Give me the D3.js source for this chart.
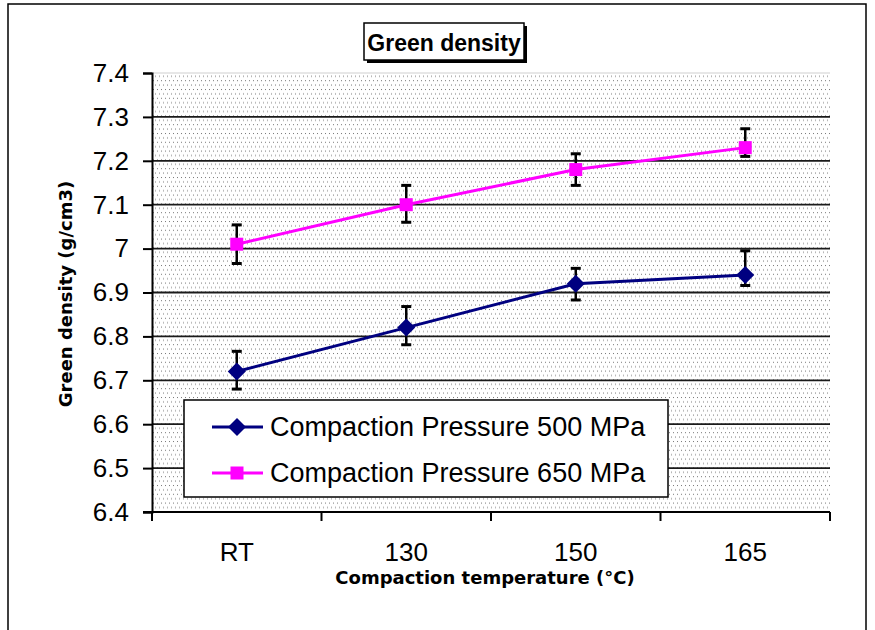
<!DOCTYPE html>
<html>
<head>
<meta charset="utf-8">
<script src="https://cdn.jsdelivr.net/npm/d3@7/dist/d3.min.js"></script>
<style>
  html, body { margin: 0; padding: 0; background: #fff; }
  svg { display: block; }
</style>
</head>
<body>
<script>
// Compaction temperatures (categories)
const categories = ["RT", "130", "150", "165"];

// Green density (g/cm3) for each compaction pressure
const series500 = [6.72, 6.82, 6.92, 6.94];
const low500    = [6.68, 6.781, 6.883, 6.916];
const high500   = [6.766, 6.868, 6.955, 6.995];

const series650 = [7.01, 7.10, 7.18, 7.23];
const low650    = [6.966, 7.06, 7.144, 7.21];
const high650   = [7.054, 7.144, 7.216, 7.273];

const yTicks = [6.4, 6.5, 6.6, 6.7, 6.8, 6.9, 7, 7.1, 7.2, 7.3, 7.4];
const seriesNames = ["Compaction Pressure 500 MPa", "Compaction Pressure 650 MPa"];

const W = 875, H = 630;
const plot = { left: 152, right: 830, top: 73, bottom: 512 };

const svg = d3.select("body").append("svg")
  .attr("width", W).attr("height", H);

// Dotted fill for the plot area
const defs = svg.append("defs");
const pat = defs.append("pattern")
  .attr("id", "dots").attr("patternUnits", "userSpaceOnUse")
  .attr("width", 4).attr("height", 8.8);
pat.append("rect").attr("x", 1).attr("y", 1).attr("width", 1).attr("height", 1).attr("fill", "#777");
pat.append("rect").attr("x", 3).attr("y", 5.4).attr("width", 1).attr("height", 1).attr("fill", "#777");

// Square rotated 45 degrees, used as the diamond marker
const diamond = {
  draw(ctx, size) {
    const r = Math.sqrt(size / 2);
    ctx.moveTo(0, -r); ctx.lineTo(r, 0); ctx.lineTo(0, r); ctx.lineTo(-r, 0); ctx.closePath();
  }
};

// Outer chart frame
svg.append("rect")
  .attr("x", 8).attr("y", 4).attr("width", 858).attr("height", 660)
  .attr("fill", "#fff").attr("stroke", "#000").attr("stroke-width", 1.5);

const x = d3.scaleBand().domain(categories).range([plot.left, plot.right]).padding(0);
const y = d3.scaleLinear().domain([6.4, 7.4]).range([plot.bottom, plot.top]);

// Plot background
svg.append("rect")
  .attr("x", plot.left).attr("y", plot.top)
  .attr("width", plot.right - plot.left).attr("height", plot.bottom - plot.top)
  .attr("fill", "url(#dots)");
svg.append("line")
  .attr("x1", plot.left).attr("x2", plot.right)
  .attr("y1", plot.top).attr("y2", plot.top)
  .attr("stroke", "#cfcfcf").attr("stroke-width", 1);

// Horizontal gridlines
svg.append("g").selectAll("line")
  .data(yTicks.filter(v => v > 6.4 && v < 7.4))
  .join("line")
  .attr("x1", plot.left).attr("x2", plot.right)
  .attr("y1", d => y(d)).attr("y2", d => y(d))
  .attr("stroke", "#1a1a1a").attr("stroke-width", 1.8);

// Y axis
const yAxis = svg.append("g")
  .attr("transform", `translate(${plot.left},0)`)
  .call(d3.axisLeft(y).tickValues(yTicks).tickSize(9).tickPadding(14)
    .tickFormat(d => d3.format("")(+d.toFixed(1))));
yAxis.select(".domain").attr("stroke", "#000").attr("stroke-width", 2);
yAxis.selectAll(".tick line").attr("stroke", "#000").attr("stroke-width", 2);
yAxis.selectAll(".tick text")
  .attr("font-family", "'Liberation Sans', Arial, sans-serif")
  .attr("font-size", 26).attr("fill", "#000");

// X axis: ticks sit on category boundaries
const boundaries = categories.map(c => x(c)).concat([x(categories[categories.length - 1]) + x.bandwidth()]);
const xAxis = svg.append("g");
xAxis.append("line")
  .attr("x1", plot.left - 9).attr("x2", plot.right)
  .attr("y1", plot.bottom).attr("y2", plot.bottom)
  .attr("stroke", "#000").attr("stroke-width", 2);
xAxis.selectAll("line.tk").data(boundaries).join("line")
  .attr("class", "tk")
  .attr("x1", d => d).attr("x2", d => d)
  .attr("y1", plot.bottom).attr("y2", plot.bottom + 9)
  .attr("stroke", "#000").attr("stroke-width", 2);
xAxis.selectAll("text").data(categories).join("text")
  .attr("x", d => x(d) + x.bandwidth() / 2)
  .attr("y", 561)
  .attr("text-anchor", "middle")
  .attr("font-family", "'Liberation Sans', Arial, sans-serif")
  .attr("font-size", 26).attr("fill", "#000")
  .text(d => d);

// Series
const seriesData = [
  { name: seriesNames[0], values: series500, low: low500, high: high500, color: "#000080", shape: diamond, size: 162 },
  { name: seriesNames[1], values: series650, low: low650, high: high650, color: "#ff00ff", shape: d3.symbolSquare, size: 169 }
];
const cx = c => x(c) + x.bandwidth() / 2;
const line = d3.line().x((d, i) => cx(categories[i])).y(d => y(d));

seriesData.forEach(s => {
  const g = svg.append("g");
  g.append("path").datum(s.values)
    .attr("d", line).attr("fill", "none")
    .attr("stroke", s.color).attr("stroke-width", 3);
  // error bars
  const eb = g.selectAll("g.eb").data(categories).join("g").attr("class", "eb");
  eb.append("line")
    .attr("x1", c => cx(c)).attr("x2", c => cx(c))
    .attr("y1", (c, i) => y(s.high[i])).attr("y2", (c, i) => y(s.low[i]))
    .attr("stroke", "#000").attr("stroke-width", 2.5);
  ["high", "low"].forEach(k => {
    eb.append("line")
      .attr("x1", c => cx(c) - 5).attr("x2", c => cx(c) + 5)
      .attr("y1", (c, i) => y(s[k][i])).attr("y2", (c, i) => y(s[k][i]))
      .attr("stroke", "#000").attr("stroke-width", 3);
  });
  g.selectAll("path.mk").data(s.values).join("path")
    .attr("class", "mk")
    .attr("transform", (d, i) => `translate(${cx(categories[i])},${y(d)})`)
    .attr("d", d3.symbol().type(s.shape).size(s.size))
    .attr("fill", s.color);
});

// Legend
const lg = svg.append("g");
lg.append("rect")
  .attr("x", 184).attr("y", 400).attr("width", 484).attr("height", 97)
  .attr("fill", "#fff").attr("stroke", "#000").attr("stroke-width", 1.5);
seriesData.forEach((s, i) => {
  const ly = 427 + i * 46;
  lg.append("line")
    .attr("x1", 212).attr("x2", 263).attr("y1", ly).attr("y2", ly)
    .attr("stroke", s.color).attr("stroke-width", 3);
  lg.append("path")
    .attr("transform", `translate(237,${ly})`)
    .attr("d", d3.symbol().type(s.shape).size(s.size))
    .attr("fill", s.color);
  lg.append("text")
    .attr("x", 270).attr("y", ly + 9)
    .attr("font-family", "'Liberation Sans', Arial, sans-serif")
    .attr("font-size", 27).attr("fill", "#000")
    .text(s.name);
});

// Title box with shadow
svg.append("rect").attr("x", 367).attr("y", 26).attr("width", 160).attr("height", 37).attr("fill", "#000");
svg.append("rect").attr("x", 364).attr("y", 23).attr("width", 160).attr("height", 37)
  .attr("fill", "#fff").attr("stroke", "#000").attr("stroke-width", 1.5);
svg.append("text")
  .attr("x", 444).attr("y", 51)
  .attr("text-anchor", "middle")
  .attr("font-family", "'Liberation Sans', Arial, sans-serif")
  .attr("font-weight", "bold").attr("font-size", 23).attr("fill", "#000")
  .text("Green density");

// Axis titles
svg.append("text")
  .attr("x", 485).attr("y", 584)
  .attr("text-anchor", "middle")
  .attr("font-family", "'DejaVu Sans', Verdana, sans-serif")
  .attr("font-weight", "bold").attr("font-size", 18).attr("fill", "#000")
  .text("Compaction temperature (°C)");
svg.append("text")
  .attr("transform", "translate(72,294) rotate(-90)")
  .attr("text-anchor", "middle")
  .attr("font-family", "'DejaVu Sans', Verdana, sans-serif")
  .attr("font-weight", "bold").attr("font-size", 18).attr("fill", "#000")
  .text("Green density (g/cm3)");
</script>
</body>
</html>
